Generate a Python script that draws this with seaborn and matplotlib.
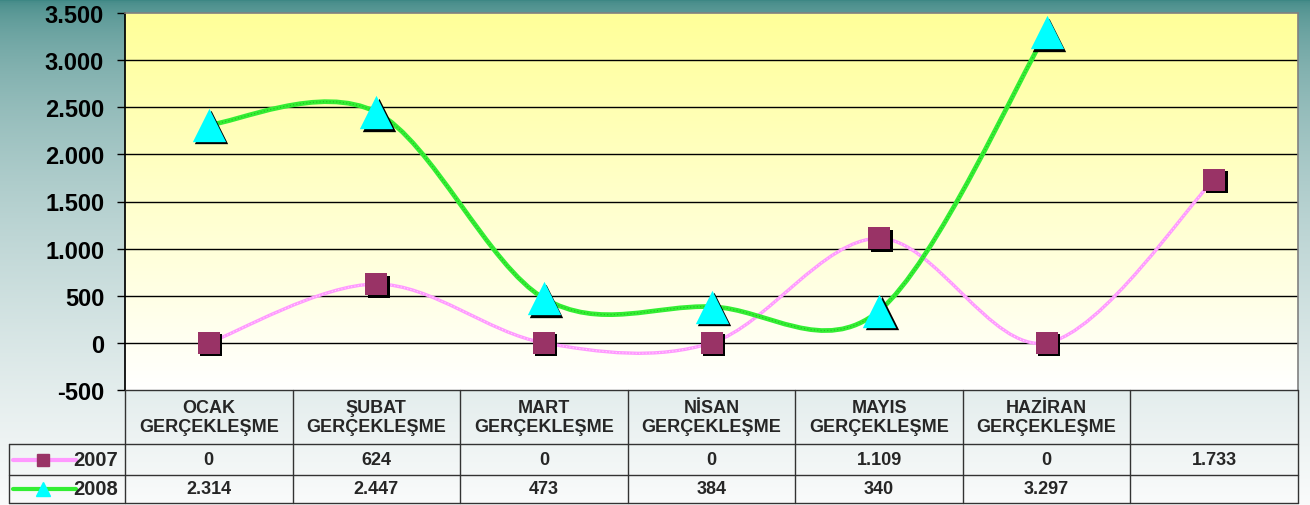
import numpy as np
import pandas as pd
import seaborn as sns
import matplotlib.pyplot as plt
from matplotlib.path import Path
from matplotlib.patches import PathPatch
from matplotlib.lines import Line2D
from matplotlib import transforms

# data
months = ['OCAK\nGERÇEKLEŞME', 'ŞUBAT\nGERÇEKLEŞME', 'MART\nGERÇEKLEŞME',
          'NİSAN\nGERÇEKLEŞME', 'MAYIS\nGERÇEKLEŞME', 'HAZİRAN\nGERÇEKLEŞME', '']
v2007 = [0, 624, 0, 0, 1109, 0, 1733]
v2008 = [2314, 2447, 473, 384, 340, 3297, np.nan]
yticks = [-500, 0, 500, 1000, 1500, 2000, 2500, 3000, 3500]

sns.set_theme(style='white')
plt.rcParams['font.family'] = ['Liberation Sans', 'DejaVu Sans']

W, H = 1310, 506
fig = plt.figure(figsize=(W / 100, H / 100), dpi=100)

# page background gradient (teal to white)
bg = fig.add_axes([0, 0, 1, 1], zorder=-10)
t = np.linspace(0, 1, 256)[:, None] ** 0.5
top = np.array([60, 134, 131]) / 255
bot = np.array([250, 251, 251]) / 255
grad = top[None, None, :] * (1 - t[..., None]) + bot[None, None, :] * t[..., None]
bg.imshow(grad, aspect='auto', extent=[0, 1, 0, 1])
bg.set_axis_off()

L, T, R, B = 125, 14, 1298, 391
ax = fig.add_axes([L / W, 1 - B / H, (R - L) / W, (B - T) / H])
ax.set_xlim(-0.5, 6.5)
ax.set_ylim(-500, 3500)

# plot area gradient yellow -> white
g = np.linspace(0, 1, 256)[:, None]
ycol = np.array([1, 1, 0.6])
pa = ycol[None, None, :] * (1 - g[..., None]) + np.ones(3)[None, None, :] * g[..., None]
ax.imshow(pa, aspect='auto', extent=[-0.5, 6.5, -500, 3500], zorder=0)

for yv in yticks[1:-1]:
    ax.axhline(yv, color='black', lw=1, zorder=1)


def smooth_path(xs, ys):
    pts = [(x, y) for x, y in zip(xs, ys) if not np.isnan(y)]
    pts = np.array(pts, float)
    n = len(pts)
    verts = [pts[0]]
    codes = [Path.MOVETO]
    for i in range(n - 1):
        p0 = pts[max(i - 1, 0)]
        p1 = pts[i]
        p2 = pts[i + 1]
        p3 = pts[min(i + 2, n - 1)]
        c1 = p1 + (p2 - p0) / 6
        c2 = p2 - (p3 - p1) / 6
        verts += [c1, c2, p2]
        codes += [Path.CURVE4] * 3
    return Path(verts, codes)


xs = np.arange(len(months))
ax.add_patch(PathPatch(smooth_path(xs, v2007), fc='none', ec='#ff99ff', lw=2.4, zorder=3))
ax.add_patch(PathPatch(smooth_path(xs, v2007), fc='none', ec='#ffd6ff', lw=0.8,
                       ls=(0, (1, 2)), zorder=3))
ax.add_patch(PathPatch(smooth_path(xs, v2008), fc='none', ec='#33ee33', lw=3.4, zorder=4))
ax.add_patch(PathPatch(smooth_path(xs, v2008), fc='none', ec='#22bb22', lw=0.8,
                       ls=(0, (1, 2)), zorder=4))

df = pd.DataFrame({'x': xs, 'y2007': v2007, 'y2008': v2008})
shadow = transforms.offset_copy(ax.transData, fig=fig, x=2.5, y=-2.5, units='dots')
ax.scatter(df['x'], df['y2007'], marker='s', s=16.5 ** 2, color='black', lw=0,
           transform=shadow, zorder=5)
sns.scatterplot(data=df, x='x', y='y2007', marker='s', s=16.5 ** 2, color='#993366',
                linewidth=0, ax=ax, zorder=6)
d8 = df.dropna()
ax.scatter(d8['x'], d8['y2008'], marker='^', s=24 ** 2, color='black', lw=0,
           transform=shadow, zorder=7)
sns.scatterplot(data=d8, x='x', y='y2008', marker='^', s=24 ** 2, color='#00ffff',
                linewidth=0, ax=ax, zorder=8)

ax.set_xlim(-0.5, 6.5)
ax.set_ylim(-500, 3500)
ax.set_xticks([])
ax.set_xlabel('')
ax.set_ylabel('')
ax.set_yticks(yticks)
ax.set_yticklabels([f'{v:,}'.replace(',', '.') for v in yticks],
                   fontsize=17, fontweight='bold', color='black')
ax.tick_params(axis='y', left=True, length=6, width=1, color='black', pad=9)
ax.spines['left'].set_color('black')
ax.spines['bottom'].set_visible(False)
for s in ['top', 'right']:
    ax.spines[s].set_color('#808080')
    ax.spines[s].set_linewidth(1.2)

# data table
tr = transforms.blended_transform_factory(ax.transData, fig.transFigure)
ylines = [391, 445, 476, 504]
for i, yl in enumerate(ylines):
    x0 = L if i == 0 else 9
    fig.add_artist(Line2D([x0 / W, R / W], [1 - yl / H] * 2, color='#333333', lw=1))
for xb in range(8):
    xpix = L + xb * (R - L) / 7
    fig.add_artist(Line2D([xpix / W] * 2, [1 - 391 / H, 1 - 504 / H], color='#333333', lw=1))
fig.add_artist(Line2D([9 / W] * 2, [1 - 445 / H, 1 - 504 / H], color='#333333', lw=1))

fs = 13
for i, m in enumerate(months):
    ax.text(i, 1 - 418 / H, m, transform=tr, ha='center', va='center', fontsize=fs,
            fontweight='bold', linespacing=1.2)
    if not np.isnan(v2007[i]):
        ax.text(i, 1 - 461 / H, f'{v2007[i]:,}'.replace(',', '.'), transform=tr,
                ha='center', va='center', fontsize=fs, fontweight='bold')
    if not np.isnan(v2008[i]):
        ax.text(i, 1 - 490 / H, f'{int(v2008[i]):,}'.replace(',', '.'), transform=tr,
                ha='center', va='center', fontsize=fs, fontweight='bold')

# legend keys in the table
for yk, lab, lc, mk, mc, ms in [(461, '2007', '#ff99ff', 's', '#993366', 9),
                                (490, '2008', '#33ee33', '^', '#00ffff', 10)]:
    yy = 1 - yk / H
    fig.add_artist(Line2D([13 / W, 76 / W], [yy, yy], color=lc, lw=3))
    fig.add_artist(Line2D([43 / W], [yy], marker=mk, color=mc, ms=ms, lw=0))
    fig.text(118 / W, yy, lab, ha='right', va='center', fontsize=14.5, fontweight='bold')

fig.savefig('out.png', dpi=100)
